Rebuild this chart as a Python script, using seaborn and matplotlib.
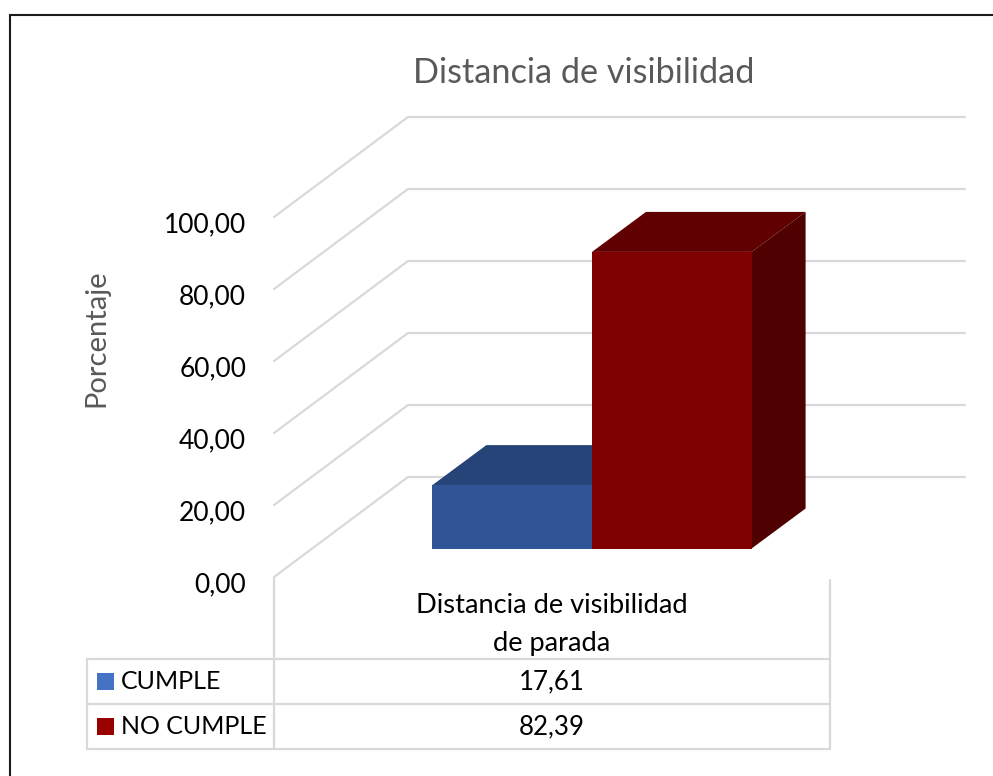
import numpy as np
import pandas as pd
import matplotlib
matplotlib.use('Agg')
import matplotlib.pyplot as plt
from matplotlib.patches import Polygon, Rectangle
from matplotlib.transforms import ScaledTranslation
import seaborn as sns

# datos
categorias = ['Distancia de visibilidad\nde parada']
series = ['CUMPLE', 'NO CUMPLE']
valores = [17.61, 82.39]
ticks_y = [0, 20, 40, 60, 80, 100]
titulo = 'Distancia de visibilidad'
etiqueta_y = 'Porcentaje'

# colores: frente, tapa, lateral, leyenda
frente = ['#2F5597', '#7F0000']
tapa = ['#264478', '#600000']
lateral = ['#203864', '#4F0000']
leyenda = ['#4472C4', '#990000']
gris = '#D9D9D9'

W, H = 993, 776


def caja_px(izq, der, arriba, abajo):
    """Rectangulo en pixeles de la imagen a coordenadas de figura."""
    return [izq / W, 1 - abajo / H, (der - izq) / W, (abajo - arriba) / H]


sns.set_theme(style='white')
plt.rcParams['font.family'] = ['Lato', 'DejaVu Sans']

fig = plt.figure(figsize=(W / 100, H / 100), dpi=100, facecolor='white')

# capa de fondo en pixeles para pared, tabla y marco
fondo = fig.add_axes([0, 0, 1, 1], zorder=0)
fondo.set_xlim(0, W)
fondo.set_ylim(H, 0)
fondo.axis('off')

# eje de valores, pegado a la pared izquierda
eje = fig.add_axes(caja_px(274, 275, 217, 577), zorder=1, facecolor='none')
eje.set_ylim(0, 100)
eje.set_xticks([])
eje.set_yticks(ticks_y)
eje.set_yticklabels([f'{t:.2f}'.replace('.', ',') for t in ticks_y], fontsize=19, color='black')
eje.tick_params(axis='y', length=0, pad=20)
sns.despine(ax=eje, left=True, bottom=True)
desplazar = ScaledTranslation(0, -5 / 100, fig.dpi_scale_trans)
for lab in eje.get_yticklabels():
    lab.set_transform(lab.get_transform() + desplazar)

# paredes: cada linea sale de la posicion de su tick
dx_pared, dy_pared = 134, -100
for t in ticks_y:
    y_px = fondo.transData.inverted().transform(eje.transData.transform((0, t)))[1]
    fondo.plot([274, 274 + dx_pared, 965], [y_px, y_px + dy_pared, y_px + dy_pared],
               color=gris, lw=1.6, solid_joinstyle='miter', zorder=1)

# barras
df = pd.DataFrame({'categoria': categorias[0], 'serie': series, 'valor': valores})
barras = fig.add_axes(caja_px(392.5, 791.5, 188.5, 548.5), zorder=2, facecolor='none')
sns.barplot(data=df, x='categoria', y='valor', hue='serie', hue_order=series,
            palette=frente, width=0.8, gap=0, saturation=1, legend=False,
            linewidth=0, ax=barras)
barras.set_ylim(0, 100)
barras.set_xlim(-0.5, 0.5)
barras.axis('off')

# tapa y lateral de cada barra, a partir del rectangulo que dibujo seaborn
dx_barra, dy_barra = 54, -40
a_fondo = fondo.transData.inverted()
for i, p in enumerate(barras.patches):
    (x0, y0), (x1, y1) = a_fondo.transform(p.get_window_extent().get_points())
    abajo, arriba = max(y0, y1), min(y0, y1)
    fondo.add_patch(Polygon([(x0, arriba), (x1, arriba), (x1 + dx_barra, arriba + dy_barra),
                             (x0 + dx_barra, arriba + dy_barra)], closed=True,
                            fc=tapa[i], ec='none', zorder=2 + i))
    fondo.add_patch(Polygon([(x1, arriba), (x1 + dx_barra, arriba + dy_barra),
                             (x1 + dx_barra, abajo + dy_barra), (x1, abajo)], closed=True,
                            fc=lateral[i], ec='none', zorder=2 + i))

# tabla de datos
fondo.plot([274, 274], [577, 749], color=gris, lw=1.6, zorder=1)
fondo.plot([830, 830], [580, 749], color=gris, lw=1.6, zorder=1)
fondo.plot([87, 87], [659, 749], color=gris, lw=1.6, zorder=1)
filas = [659, 704, 749]
for y in filas:
    fondo.plot([87, 830], [y, y], color=gris, lw=1.6, zorder=1)
fondo.text(552, 624.5, categorias[0], ha='center', va='center', fontsize=19.6,
           color='black', linespacing=1.65)
for i, s in enumerate(series):
    medio = (filas[i] + filas[i + 1]) / 2
    fondo.add_patch(Rectangle((97, medio - 8.5), 17, 17, fc=leyenda[i], ec='none'))
    fondo.text(121, medio, s, ha='left', va='center', fontsize=18, color='black')
    fondo.text(552, medio, f'{valores[i]:.2f}'.replace('.', ','), ha='center', va='center',
               fontsize=18.6, color='black')

# titulo y etiqueta del eje
fondo.text(584, 73, titulo, ha='center', va='center', fontsize=24.7, color='#595959')
fondo.text(96, 338, etiqueta_y, ha='center', va='center', rotation=90, fontsize=21, color='#595959')

# marco recortado de la imagen original
fondo.plot([9.5, 9.5, W], [H, 14.5, 14.5], color='#1A1A1A', lw=1.5, solid_joinstyle='miter', zorder=5)

fig.savefig('out.png', dpi=100)
